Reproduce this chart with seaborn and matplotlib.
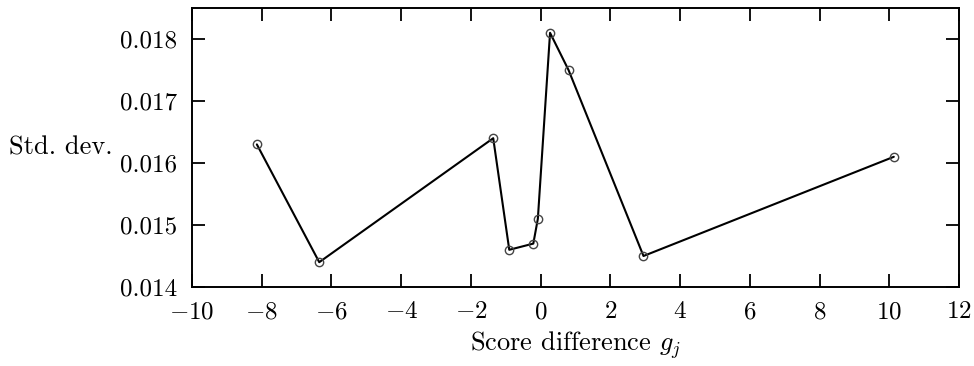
import matplotlib
matplotlib.use("Agg")
import matplotlib.pyplot as plt
import seaborn as sns
import pandas as pd
from matplotlib.ticker import FixedLocator, FormatStrFormatter

# Data
score_diff = [-8.14, -6.35, -1.36, -0.90, -0.21, -0.08, 0.27, 0.80, 2.95, 10.13]
std_dev = [0.0163, 0.0144, 0.0164, 0.0146, 0.0147, 0.0151, 0.0181, 0.0175, 0.0145, 0.0161]
x_ticks = [-10, -8, -6, -4, -2, 0, 2, 4, 6, 8, 10, 12]
y_ticks = [0.014, 0.015, 0.016, 0.017, 0.018]

sns.set_theme(style="ticks")
plt.rcParams["font.family"] = ["cmr10", "DejaVu Serif"]
plt.rcParams["mathtext.fontset"] = "cm"
plt.rcParams["axes.formatter.use_mathtext"] = True
plt.rcParams["axes.unicode_minus"] = True

df = pd.DataFrame({"x": score_diff, "y": std_dev})

fig = plt.figure(figsize=(9.74, 3.66), dpi=100)
ax = fig.add_axes([192 / 974, 1 - 287 / 366, 767 / 974, 279 / 366])

sns.lineplot(data=df, x="x", y="y", ax=ax, sort=False, color="black",
             linewidth=1.5, marker="o", markersize=6,
             markerfacecolor="none", markeredgecolor="#444444",
             markeredgewidth=1.0)

ax.set_xlim(-10, 12)
ax.set_ylim(0.014, 0.0185)
ax.xaxis.set_major_locator(FixedLocator(x_ticks))
ax.yaxis.set_major_locator(FixedLocator(y_ticks))
ax.yaxis.set_major_formatter(FormatStrFormatter("%.3f"))

for s in ax.spines.values():
    s.set_visible(True)
    s.set_color("black")
    s.set_linewidth(1.4)

ax.tick_params(axis="both", which="major", direction="in", length=9.5,
               width=1.3, color="black", labelsize=18, labelcolor="black",
               top=True, right=True)
ax.tick_params(axis="y", pad=11)
ax.tick_params(axis="x", pad=10)

ax.set_xlabel(r"Score difference $g_j$", fontsize=19, color="black")
ax.xaxis.set_label_coords(0.5, -0.15)
ax.set_ylabel("Std. dev.", fontsize=19, rotation=0, ha="right", va="center",
              color="black")
ax.yaxis.set_label_coords(-0.103, 0.50)

ax.grid(False)
fig.savefig("out.png", dpi=100)
